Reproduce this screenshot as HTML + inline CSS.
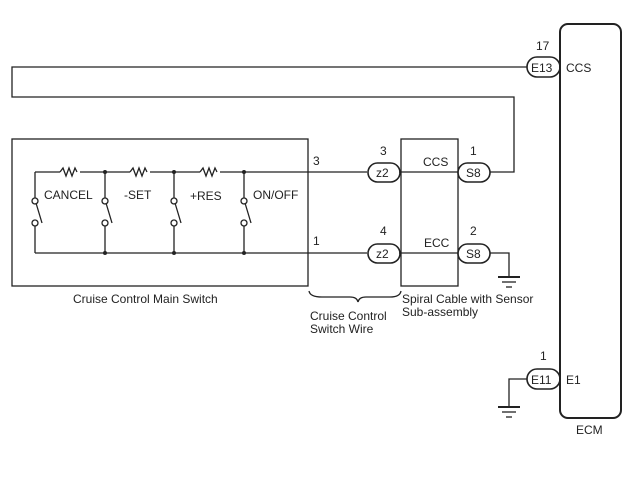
<!DOCTYPE html>
<html><head><meta charset="utf-8"><style>
html,body{margin:0;padding:0;background:#fff;}
svg{display:block;}
text{font-family:"Liberation Sans",Arial,sans-serif;font-size:12px;fill:#222;}
</style></head><body>
<svg width="640" height="480" viewBox="0 0 640 480" xmlns="http://www.w3.org/2000/svg">
<g fill="none" stroke="#222" stroke-width="1.3">
<rect x="12" y="139" width="296" height="147"/>
<line x1="35" y1="172" x2="60" y2="172"/>
<path d="M60 172 l3 -4 l3 8 l3 -8 l3 8 l3 -8 l2 4"/>
<line x1="80" y1="172" x2="130" y2="172"/>
<path d="M130 172 l3 -4 l3 8 l3 -8 l3 8 l3 -8 l2 4"/>
<line x1="150" y1="172" x2="200" y2="172"/>
<path d="M200 172 l3 -4 l3 8 l3 -8 l3 8 l3 -8 l2 4"/>
<line x1="220" y1="172" x2="367" y2="172"/>
<line x1="35" y1="253" x2="367" y2="253"/>
<g>
<line x1="35" y1="172" x2="35" y2="198"/><circle cx="35" cy="201" r="3"/><circle cx="35" cy="223" r="3"/><line x1="35" y1="226" x2="35" y2="253"/><line x1="36" y1="203" x2="42" y2="223"/>
<line x1="105" y1="172" x2="105" y2="198"/><circle cx="105" cy="201" r="3"/><circle cx="105" cy="223" r="3"/><line x1="105" y1="226" x2="105" y2="253"/><line x1="106" y1="203" x2="112" y2="223"/>
<line x1="174" y1="172" x2="174" y2="198"/><circle cx="174" cy="201" r="3"/><circle cx="174" cy="223" r="3"/><line x1="174" y1="226" x2="174" y2="253"/><line x1="175" y1="203" x2="181" y2="223"/>
<line x1="244" y1="172" x2="244" y2="198"/><circle cx="244" cy="201" r="3"/><circle cx="244" cy="223" r="3"/><line x1="244" y1="226" x2="244" y2="253"/><line x1="245" y1="203" x2="251" y2="223"/>
</g>
<rect x="401" y="139" width="57" height="147"/>
<line x1="399" y1="172" x2="458" y2="172"/>
<line x1="399" y1="253" x2="458" y2="253"/>
<g stroke-width="1.6">
<rect x="368" y="163" width="32" height="19" rx="9.5"/>
<rect x="368" y="244" width="32" height="19" rx="9.5"/>
<rect x="458" y="163" width="32" height="19" rx="9.5"/>
<rect x="458" y="244" width="32" height="19" rx="9.5"/>
<rect x="527" y="57" width="33" height="20" rx="10"/>
<rect x="527" y="369" width="33" height="20" rx="10"/>
</g>
<path d="M490 172 H514 V97 H12 V67 H527"/>
<path d="M490 253 H509 V277"/>
<line x1="498" y1="277" x2="520" y2="277" stroke-width="2"/>
<line x1="502" y1="282" x2="516" y2="282"/>
<line x1="506" y1="287" x2="512" y2="287"/>
<rect x="560" y="24" width="61" height="394" rx="8" stroke-width="2"/>
<path d="M527 379 H509 V407"/>
<line x1="498" y1="407" x2="520" y2="407" stroke-width="2"/>
<line x1="502" y1="412" x2="516" y2="412"/>
<line x1="506" y1="417" x2="512" y2="417"/>
<path d="M309 291 Q310 297 322 297 H350 Q357 297 358 302 Q359 297 366 297 H390 Q400 297 401 291"/>
</g>
<g fill="#222">
<circle cx="105" cy="172" r="2"/><circle cx="174" cy="172" r="2"/><circle cx="244" cy="172" r="2"/>
<circle cx="105" cy="253" r="2"/><circle cx="174" cy="253" r="2"/><circle cx="244" cy="253" r="2"/>
</g>
<g>
<text x="44" y="199">CANCEL</text>
<text x="124" y="199">-SET</text>
<text x="190" y="200">+RES</text>
<text x="253" y="199">ON/OFF</text>
<text x="313" y="165">3</text>
<text x="313" y="245">1</text>
<text x="380" y="155">3</text>
<text x="380" y="235">4</text>
<text x="376" y="177">z2</text>
<text x="376" y="258">z2</text>
<text x="423" y="166">CCS</text>
<text x="424" y="247">ECC</text>
<text x="470" y="155">1</text>
<text x="470" y="235">2</text>
<text x="466" y="177">S8</text>
<text x="466" y="258">S8</text>
<text x="536" y="50">17</text>
<text x="531" y="72">E13</text>
<text x="566" y="72">CCS</text>
<text x="540" y="360">1</text>
<text x="531" y="384">E11</text>
<text x="566" y="384">E1</text>
<text x="576" y="434">ECM</text>
<text x="73" y="303">Cruise Control Main Switch</text>
<text x="310" y="320">Cruise Control</text>
<text x="310" y="333">Switch Wire</text>
<text x="402" y="303">Spiral Cable with Sensor</text>
<text x="402" y="316">Sub-assembly</text>
</g>
</svg>
</body></html>
